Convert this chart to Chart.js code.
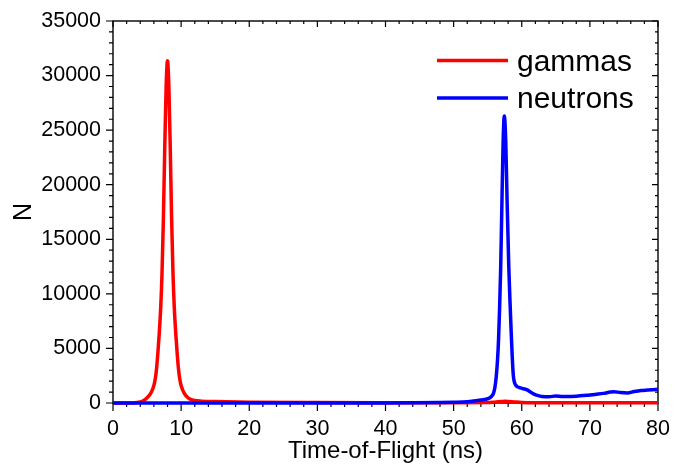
<!DOCTYPE html>
<html>
<head>
<meta charset="utf-8">
<script src="https://cdn.jsdelivr.net/npm/chart.js"></script>
<style>
  body { margin: 0; background: #fff; }
  canvas { display: block; }
</style>
</head>
<body>
<canvas id="tofChart" width="675" height="472"></canvas>
<script>
// Time-of-flight spectra, values (ns, counts)
const gammaTime = [0, 3, 3.5, 4, 4.5, 5, 5.5, 5.75, 6.0, 6.2, 6.4, 6.6, 6.8, 7.0, 7.2, 7.4, 7.6, 7.8, 8.0,
  8.2, 8.4, 8.6, 8.8, 9.0, 9.2, 9.4, 9.6, 9.8, 10, 10.25, 10.5, 11, 11.5, 12, 13, 15, 20, 30, 40, 50,
  55, 56, 57, 57.5, 58, 59, 60, 62, 70, 80];
const gammaCounts = [0, 10, 40, 100, 230, 480, 850, 1150, 1600, 2200, 3200, 4700, 6500, 8700, 12000, 17000, 23500, 29000, 31360,
  29000, 23500, 17000, 12000, 8700, 6500, 4700, 3200, 2200, 1600, 1150, 850, 480, 300, 220, 170, 130, 80, 40, 25, 25,
  40, 80, 130, 150, 140, 90, 50, 30, 30, 30];

const neutronTime = [0, 40, 48, 50, 52, 53, 54, 55.05, 55.55, 55.85, 56.05, 56.25, 56.45, 56.6, 56.75, 56.9, 57.05, 57.25, 57.44,
  57.65, 57.85, 58.1, 58.3, 58.45, 58.6, 58.75, 58.9, 59.1, 59.4, 59.8, 60.3, 60.8, 61.3, 61.8, 62.3, 63, 64, 65, 66,
  67, 68, 69, 70, 71, 72, 73, 73.5, 74.5, 75.5, 76.5, 77.5, 78.5, 80];
const neutronCounts = [0, 10, 40, 70, 120, 190, 280, 400, 600, 880, 1400, 2400, 4000, 5900, 8700, 12200, 17000, 23500, 26300,
  24000, 18500, 12400, 8900, 6500, 4300, 2600, 1950, 1650, 1480, 1380, 1300, 1200, 1000, 820, 700, 600, 570, 640, 590,
  600, 620, 680, 730, 800, 880, 1000, 1040, 960, 920, 1050, 1150, 1190, 1250];

const xMajor = 10, xMinor = 2;
const yMajor = 5000, yMinor = 1000;

const fontFamily = "Arial, 'Liberation Sans', sans-serif";

function toPoints(xs, ys) {
  return xs.map((x, i) => ({ x, y: ys[i] }));
}

// box + major/minor ticks (out on left/bottom, in on top/right)
const frameTicks = {
  id: 'frameTicks',
  beforeDatasetsDraw(chart) {
    const { ctx, chartArea: a, scales: { x, y } } = chart;
    ctx.save();
    ctx.strokeStyle = '#000';
    ctx.lineWidth = 1.4;
    ctx.strokeRect(a.left, a.top, a.right - a.left, a.bottom - a.top);
    ctx.lineWidth = 1.2;
    ctx.beginPath();
    for (let v = x.min; v <= x.max + 1e-9; v += xMinor) {
      const px = x.getPixelForValue(v);
      const major = Math.abs(v % xMajor) < 1e-9;
      ctx.moveTo(px, a.bottom); ctx.lineTo(px, a.bottom + (major ? 8 : 4));
      ctx.moveTo(px, a.top); ctx.lineTo(px, a.top + (major ? 6 : 3));
    }
    for (let v = y.min; v <= y.max + 1e-9; v += yMinor) {
      const py = y.getPixelForValue(v);
      const major = Math.abs(v % yMajor) < 1e-9;
      ctx.moveTo(a.left, py); ctx.lineTo(a.left - (major ? 7 : 4), py);
      ctx.moveTo(a.right, py); ctx.lineTo(a.right - (major ? 6 : 3), py);
    }
    ctx.stroke();
    ctx.restore();
  }
};

// legend inside the plot, top right
const innerLegend = {
  id: 'innerLegend',
  afterDraw(chart) {
    const { ctx, chartArea: a } = chart;
    ctx.save();
    ctx.font = '30px ' + fontFamily;
    ctx.textBaseline = 'alphabetic';
    ctx.textAlign = 'left';
    [0, 1].forEach((i, row) => {
      const ds = chart.data.datasets[i];
      const lineY = a.top + 39.5 + row * 37.6;
      ctx.strokeStyle = ds.borderColor;
      ctx.lineWidth = 3.5;
      ctx.beginPath();
      ctx.moveTo(a.right - 221, lineY);
      ctx.lineTo(a.right - 150, lineY);
      ctx.stroke();
      ctx.fillStyle = '#000';
      ctx.fillText(ds.label, a.right - 141, lineY + 10);
    });
    ctx.restore();
  }
};

new Chart(document.getElementById('tofChart'), {
  type: 'line',
  data: {
    datasets: [
      {
        label: 'gammas',
        data: toPoints(gammaTime, gammaCounts),
        borderColor: '#ff0000',
        borderWidth: 3.5,
        pointRadius: 0,
        cubicInterpolationMode: 'monotone',
        clip: 6,
        order: 1
      },
      {
        label: 'neutrons',
        data: toPoints(neutronTime, neutronCounts),
        borderColor: '#0000ff',
        borderWidth: 3.5,
        pointRadius: 0,
        cubicInterpolationMode: 'monotone',
        clip: 6,
        order: 0
      }
    ]
  },
  options: {
    responsive: false,
    animation: false,
    layout: { padding: { left: 0, right: 17, top: 21, bottom: 0 } },
    plugins: {
      legend: { display: false },
      tooltip: { enabled: false }
    },
    scales: {
      x: {
        type: 'linear',
        min: 0,
        max: 80,
        grid: { display: false, drawTicks: false },
        border: { display: false },
        ticks: {
          stepSize: xMajor,
          padding: 13,
          color: '#000',
          font: { family: fontFamily, size: 21.5 },
          maxRotation: 0,
          callback: v => String(v)
        },
        title: {
          display: true,
          text: 'Time-of-Flight (ns)',
          color: '#000',
          font: { family: fontFamily, size: 24 },
          padding: { top: 0, bottom: 6 }
        },
        afterFit(scale) {
          scale.height = 69;
          scale.paddingLeft = 0;
          scale.paddingRight = 0;
        }
      },
      y: {
        min: 0,
        max: 35000,
        grid: { display: false, drawTicks: false },
        border: { display: false },
        ticks: {
          stepSize: yMajor,
          padding: 12,
          color: '#000',
          font: { family: fontFamily, size: 21.5 },
          callback: v => String(v)
        },
        title: {
          display: true,
          text: 'N',
          color: '#000',
          font: { family: fontFamily, size: 25 },
          padding: { top: 9, bottom: 0 }
        },
        afterFit(scale) {
          scale.width = 113;
          scale.paddingTop = 0;
          scale.paddingBottom = 0;
        }
      }
    }
  },
  plugins: [frameTicks, innerLegend]
});
</script>
</body>
</html>
